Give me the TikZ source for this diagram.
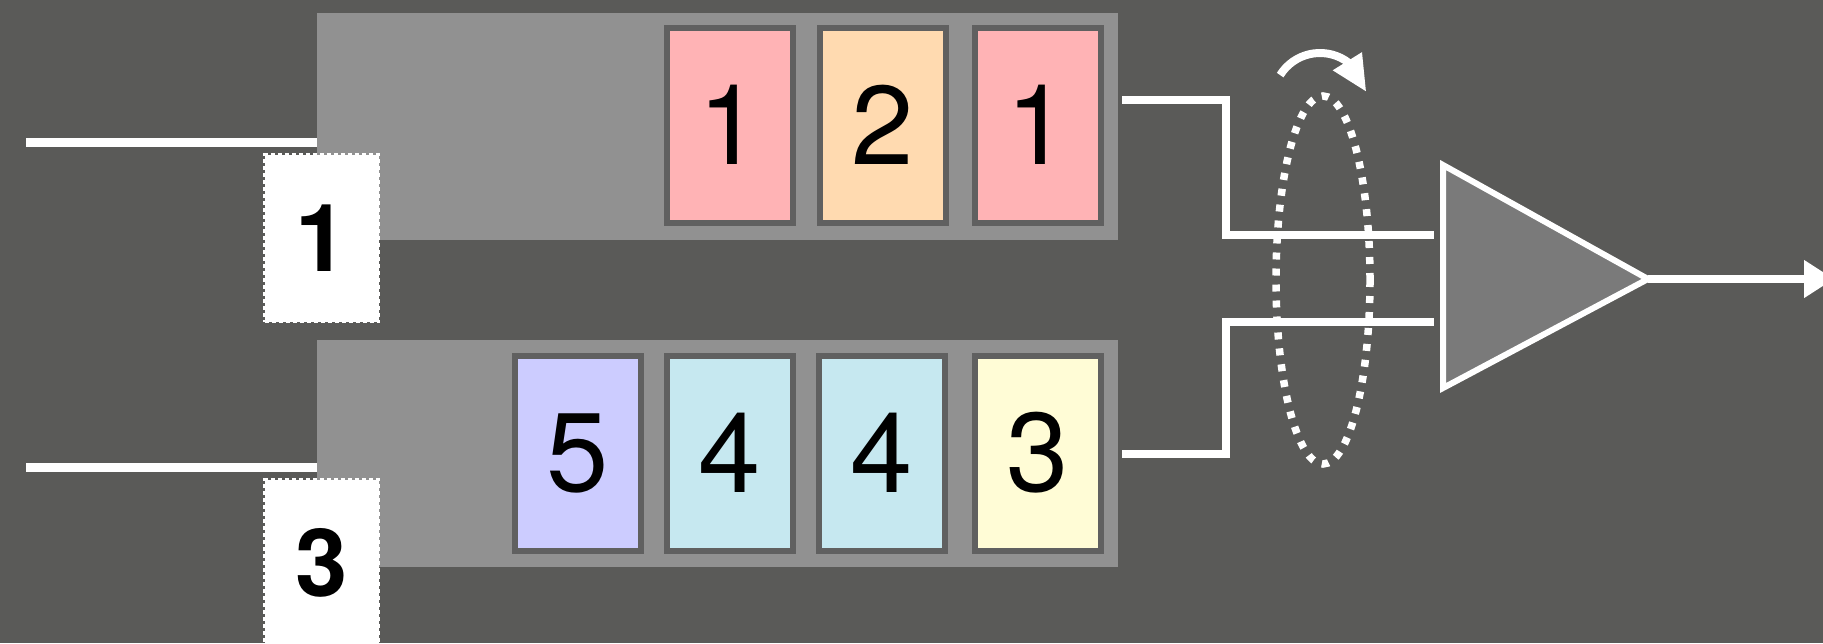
\documentclass[tikz,border=0pt]{standalone}
\usepackage{fontspec}
\setmainfont{TeX Gyre Heros}
\usetikzlibrary{arrows.meta, bending}

\definecolor{bg}{HTML}{5A5A58}
\definecolor{queuegray}{HTML}{919191}
\definecolor{pktedge}{HTML}{606060}
\definecolor{ampgray}{HTML}{7A7A7A}
\definecolor{pktred}{HTML}{FFB3B5}
\definecolor{pktorange}{HTML}{FFDAB0}
\definecolor{pktpurple}{HTML}{CCCCFF}
\definecolor{pktblue}{HTML}{C6E8F0}
\definecolor{pktyellow}{HTML}{FFFCD6}

\tikzset{
	queue/.style={fill=queuegray, minimum width=801pt, minimum height=227pt, inner sep=0pt},
	packet/.style={draw=pktedge, line width=6pt, minimum width=126pt, minimum height=195pt,
		inner sep=0pt, font=\fontsize{112pt}{112pt}\selectfont},
	flowlabel/.style={fill=white, draw=white, line width=3.5pt, dash pattern=on 4pt off 3pt,
		minimum width=114pt, minimum height=167pt, inner sep=0pt,
		font=\fontsize{94pt}{94pt}\selectfont\bfseries},
	wire/.style={white, line width=8pt},
}

\begin{document}
\begin{tikzpicture}[x=1pt, y=-1pt]

				\path[use as bounding box, fill=bg] (0,0) rectangle (1823,643);
				\clip (0,0) rectangle (1823,643);

				% Points


				\coordinate (in1) at (26,142.5);
				\coordinate (in3) at (26,467);
				\coordinate (out1) at (1122,100);
				\coordinate (out3) at (1122,454);
				\coordinate (ampin1) at (1434,235);
				\coordinate (ampin3) at (1434,322);
				\coordinate (amptop) at (1443,165);
				\coordinate (ampbot) at (1443,388);
				\coordinate (amptip) at (1648,279);
				\coordinate (outend) at (1834,279);
				\coordinate (spin) at (1323,280);
				\coordinate (turn) at (1320,100);

				% Queues

				\node[queue] (q1) at (717.5,126.5) {};
				\node[queue] (q3) at (717.5,453.5) {};

				\draw[wire, line width=9pt] (in1) -- (in1 -| q1.west);
				\draw[wire, line width=9pt] (in3) -- (in3 -| q3.west);

				\foreach \x/\c/\n [count=\i] in {730/pktred/1, 883/pktorange/2, 1038/pktred/1}
				\node[packet, fill=\c] (a\i) at (\x,125) {\n};

				\foreach \x/\c/\n [count=\i] in {578/pktpurple/5, 730/pktblue/4, 882/pktblue/4, 1038/pktyellow/3}
				\node[packet, fill=\c] (b\i) at (\x,453) {\n};

				\node[flowlabel] (f1) at (321.5,238) {1};
				\node[flowlabel] (f3) at (321.5,563) {3};

				% Scheduler

				\draw[wire] (out1) -- ++(104,0) |- (ampin1);
				\draw[wire] (out3) -- ++(104,0) |- (ampin3);

				\draw[white, line width=7.5pt, dash pattern=on 7pt off 9pt]
					(spin) ellipse [x radius=47, y radius=184];
				\draw[wire, -{Triangle[length=36pt, width=32pt, flex]}]
					([shift={(-148:47)}]turn) arc [start angle=-148, end angle=-10, radius=47];

				\draw[white, line width=6pt, fill=ampgray] (amptop) -- (amptip) -- (ampbot) -- cycle;
				\draw[wire, -{Triangle[length=30pt, width=36pt]}] (amptip) -- (outend);

\end{tikzpicture}
\end{document}
